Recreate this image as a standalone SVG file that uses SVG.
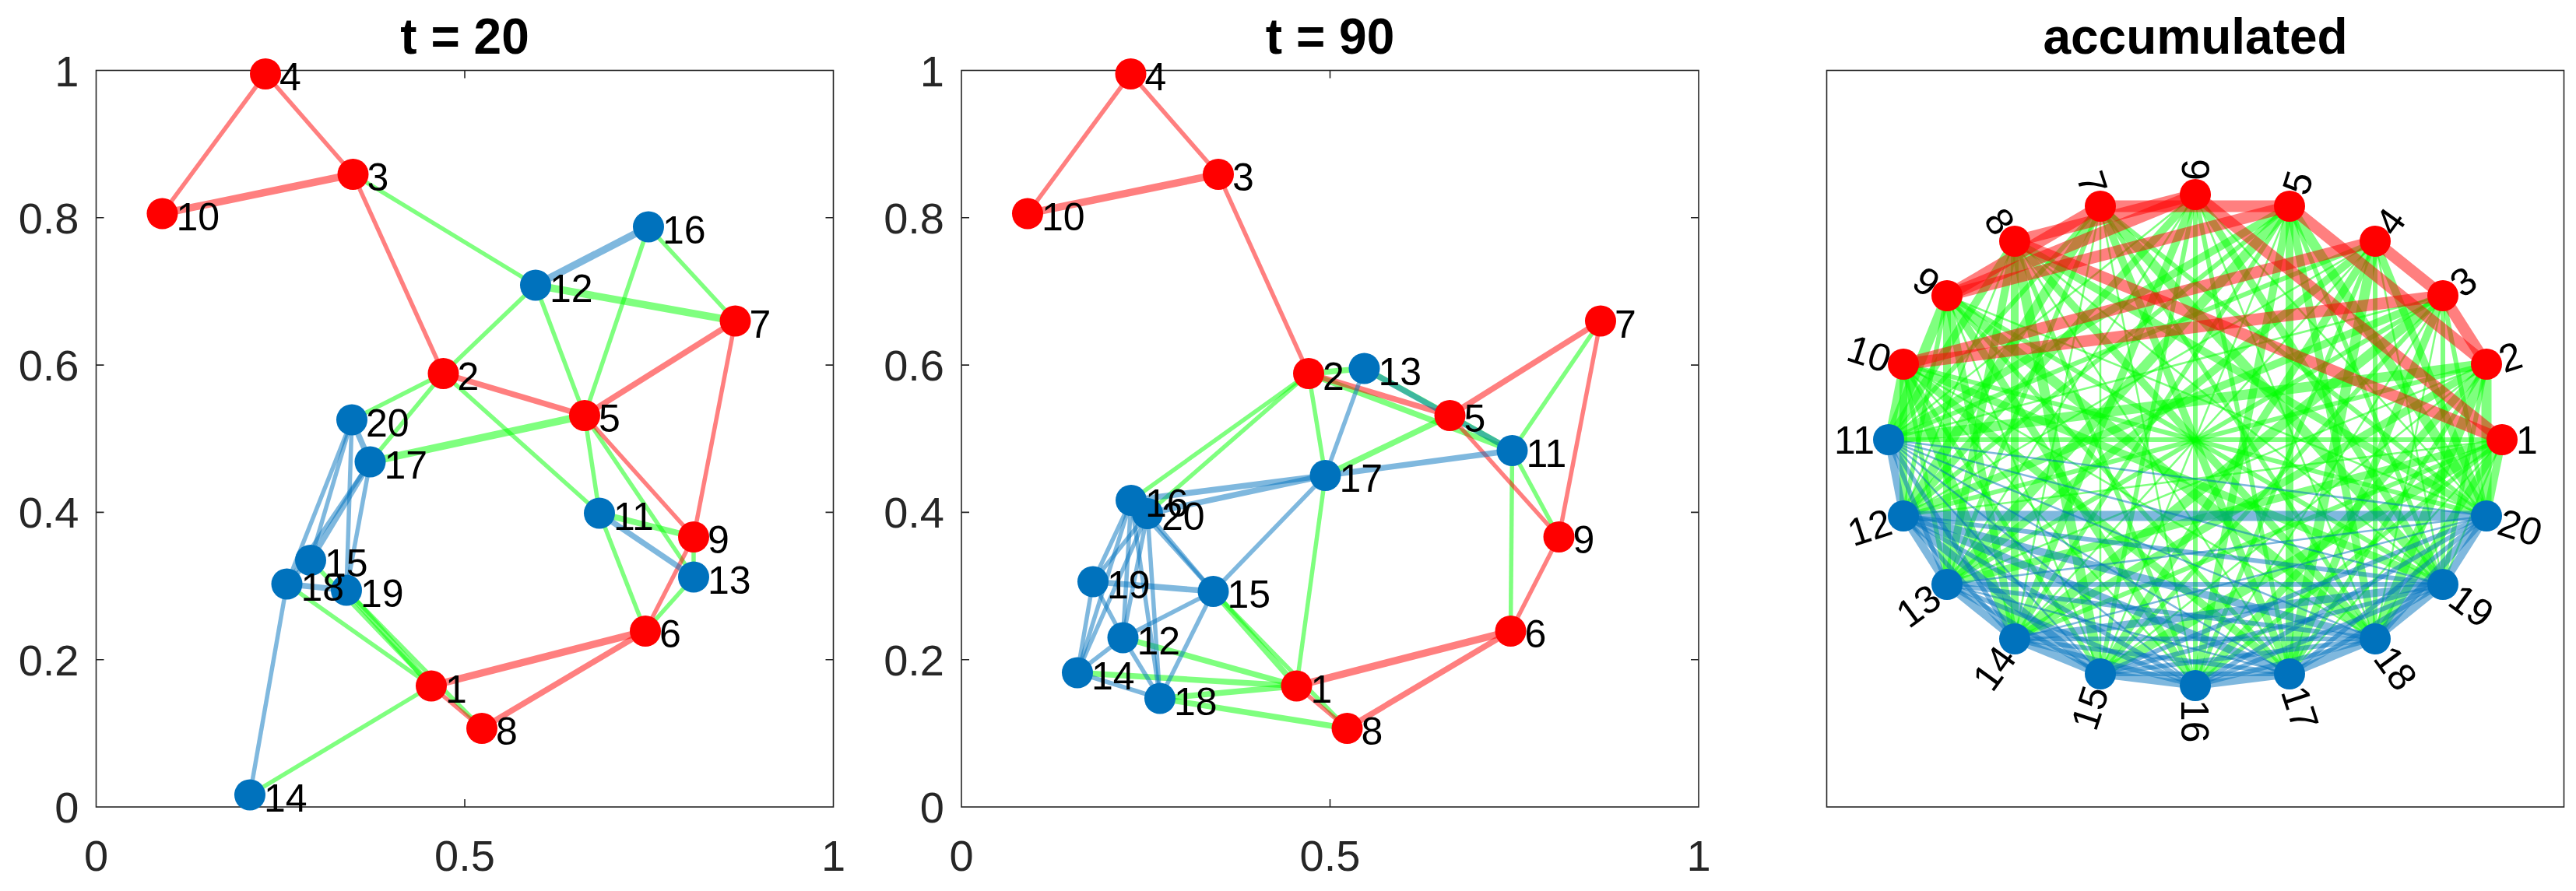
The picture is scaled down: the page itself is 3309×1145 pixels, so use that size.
<svg xmlns="http://www.w3.org/2000/svg" width="3309" height="1145" viewBox="0 0 3309 1145">
<style>
text{font-family:"Liberation Sans",Arial,Helvetica,sans-serif}
.ax{fill:none;stroke:#262626;stroke-width:1.6}
.tk{fill:none;stroke:#262626;stroke-width:1.6}
.tl{font-size:56px;fill:#262626}
.tly{text-anchor:end}
.tlx{text-anchor:middle}
.tt{font-size:64px;font-weight:bold;fill:#000;text-anchor:middle}
.lb{font-size:50px;fill:#000}
.le{text-anchor:end}
.g{stroke:#00FF00;stroke-opacity:.5}
.r{stroke:#FF0000;stroke-opacity:.5}
.b{stroke:#0072BD;stroke-opacity:.5}
.t{stroke-width:5.5}.m{stroke-width:7.5}.k{stroke-width:9.5}
.A{stroke-width:2.5}.B{stroke-width:6}.C{stroke-width:10}.D{stroke-width:13}.E{stroke-width:15}
.nr{fill:#FF0000}.nb{fill:#0072BD}
</style>
<rect width="3309" height="1145" fill="#fff"/>

<!-- titles -->
<text class="tt" x="597" y="68.5">t = 20</text>
<text class="tt" x="1708.5" y="68.5">t = 90</text>
<text class="tt" x="2820" y="68.5">accumulated</text>

<!-- axes -->
<g id="axes">
<rect class="ax" x="123.5" y="90.5" width="947" height="946.5"/>
<rect class="ax" x="1235" y="90.5" width="947" height="946.5"/>
<rect class="ax" x="2346.5" y="90.5" width="947" height="946.5"/>
<path class="tk" d="M597,1037V1027M597,90.5V100.5M123.5,847.7H133.5M123.5,658.4H133.5M123.5,469.1H133.5M123.5,279.8H133.5M1070.5,847.7H1060.5M1070.5,658.4H1060.5M1070.5,469.1H1060.5M1070.5,279.8H1060.5"/>
<path class="tk" d="M1708.5,1037V1027M1708.5,90.5V100.5M1235,847.7H1245M1235,658.4H1245M1235,469.1H1245M1235,279.8H1245M2182,847.7H2172M2182,658.4H2172M2182,469.1H2172M2182,279.8H2172"/>
<g class="tl tly">
<text x="101.5" y="1057">0</text><text x="101.5" y="867.7">0.2</text><text x="101.5" y="678.4">0.4</text><text x="101.5" y="489.1">0.6</text><text x="101.5" y="299.8">0.8</text><text x="101.5" y="110.5">1</text>
<text x="1213" y="1057">0</text><text x="1213" y="867.7">0.2</text><text x="1213" y="678.4">0.4</text><text x="1213" y="489.1">0.6</text><text x="1213" y="299.8">0.8</text><text x="1213" y="110.5">1</text>
</g>
<g class="tl tlx">
<text x="123.5" y="1119">0</text><text x="597" y="1119">0.5</text><text x="1070.5" y="1119">1</text>
<text x="1235" y="1119">0</text><text x="1708.5" y="1119">0.5</text><text x="2182" y="1119">1</text>
</g>
</g>

<!-- connectors panel 1 -->
<g id="p1-edges">
<line class="g t" x1="453.5" y1="224" x2="688" y2="366.5"/>
<line class="g k" x1="688" y1="366.5" x2="944.5" y2="412.5"/>
<line class="g t" x1="833" y1="291.5" x2="944.5" y2="412.5"/>
<line class="g t" x1="833" y1="291.5" x2="751" y2="534"/>
<line class="g t" x1="688" y1="366.5" x2="751" y2="534"/>
<line class="g t" x1="688" y1="366.5" x2="569.5" y2="480"/>
<line class="g t" x1="569.5" y1="480" x2="452" y2="539.5"/>
<line class="g t" x1="569.5" y1="480" x2="475.5" y2="593.5"/>
<line class="g t" x1="569.5" y1="480" x2="770" y2="659.5"/>
<line class="g k" x1="751" y1="534" x2="475.5" y2="593.5"/>
<line class="g t" x1="751" y1="534" x2="770" y2="659.5"/>
<line class="g t" x1="751" y1="534" x2="891" y2="741.5"/>
<line class="g m" x1="770" y1="659.5" x2="891" y2="690"/>
<line class="g t" x1="891" y1="690" x2="891" y2="741.5"/>
<line class="g t" x1="770" y1="659.5" x2="829" y2="811"/>
<line class="g t" x1="891" y1="741.5" x2="829" y2="811"/>
<line class="g t" x1="368.5" y1="750.5" x2="554" y2="881.5"/>
<line class="g m" x1="445" y1="758.5" x2="554" y2="881.5"/>
<line class="g t" x1="399" y1="720" x2="554" y2="881.5"/>
<line class="g t" x1="445" y1="758.5" x2="619" y2="936"/>
<line class="g t" x1="321" y1="1021.5" x2="554" y2="881.5"/>
<line class="r t" x1="341" y1="95" x2="208.5" y2="274.5"/>
<line class="r t" x1="341" y1="95" x2="453.5" y2="224"/>
<line class="r k" x1="453.5" y1="224" x2="208.5" y2="274.5"/>
<line class="r t" x1="453.5" y1="224" x2="569.5" y2="480"/>
<line class="r m" x1="569.5" y1="480" x2="751" y2="534"/>
<line class="r m" x1="751" y1="534" x2="944.5" y2="412.5"/>
<line class="r t" x1="944.5" y1="412.5" x2="891" y2="690"/>
<line class="r t" x1="751" y1="534" x2="891" y2="690"/>
<line class="r t" x1="891" y1="690" x2="829" y2="811"/>
<line class="r k" x1="829" y1="811" x2="554" y2="881.5"/>
<line class="r m" x1="829" y1="811" x2="619" y2="936"/>
<line class="r t" x1="554" y1="881.5" x2="619" y2="936"/>
<line class="b k" x1="688" y1="366.5" x2="833" y2="291.5"/>
<line class="b m" x1="770" y1="659.5" x2="891" y2="741.5"/>
<line class="b m" x1="452" y1="539.5" x2="475.5" y2="593.5"/>
<line class="b t" x1="452" y1="539.5" x2="399" y2="720"/>
<line class="b t" x1="452" y1="539.5" x2="368.5" y2="750.5"/>
<line class="b t" x1="452" y1="539.5" x2="445" y2="758.5"/>
<line class="b m" x1="475.5" y1="593.5" x2="399" y2="720"/>
<line class="b t" x1="475.5" y1="593.5" x2="368.5" y2="750.5"/>
<line class="b t" x1="475.5" y1="593.5" x2="445" y2="758.5"/>
<line class="b m" x1="368.5" y1="750.5" x2="445" y2="758.5"/>
<line class="b t" x1="368.5" y1="750.5" x2="321" y2="1021.5"/>
<line class="b t" x1="399" y1="720" x2="368.5" y2="750.5"/>
</g>

<!-- nodes panel 1 -->
<g id="p1-n1"><circle class="nr" cx="554" cy="881.5" r="20"/><text class="lb" x="572" y="902.5">1</text></g>
<g id="p1-n2"><circle class="nr" cx="569.5" cy="480" r="20"/><text class="lb" x="587.5" y="501">2</text></g>
<g id="p1-n3"><circle class="nr" cx="453.5" cy="224" r="20"/><text class="lb" x="471.5" y="245">3</text></g>
<g id="p1-n4"><circle class="nr" cx="341" cy="95" r="20"/><text class="lb" x="359" y="116">4</text></g>
<g id="p1-n5"><circle class="nr" cx="751" cy="534" r="20"/><text class="lb" x="769" y="555">5</text></g>
<g id="p1-n6"><circle class="nr" cx="829" cy="811" r="20"/><text class="lb" x="847" y="832">6</text></g>
<g id="p1-n7"><circle class="nr" cx="944.5" cy="412.5" r="20"/><text class="lb" x="962.5" y="433.5">7</text></g>
<g id="p1-n8"><circle class="nr" cx="619" cy="936" r="20"/><text class="lb" x="637" y="957">8</text></g>
<g id="p1-n9"><circle class="nr" cx="891" cy="690" r="20"/><text class="lb" x="909" y="711">9</text></g>
<g id="p1-n10"><circle class="nr" cx="208.5" cy="274.5" r="20"/><text class="lb" x="226.5" y="295.5">10</text></g>
<g id="p1-n11"><circle class="nb" cx="770" cy="659.5" r="20"/><text class="lb" x="788" y="680.5">11</text></g>
<g id="p1-n12"><circle class="nb" cx="688" cy="366.5" r="20"/><text class="lb" x="706" y="387.5">12</text></g>
<g id="p1-n13"><circle class="nb" cx="891" cy="741.5" r="20"/><text class="lb" x="909" y="762.5">13</text></g>
<g id="p1-n14"><circle class="nb" cx="321" cy="1021.5" r="20"/><text class="lb" x="339" y="1042.5">14</text></g>
<g id="p1-n19"><circle class="nb" cx="445" cy="758.5" r="20"/><text class="lb" x="463" y="779.5">19</text></g>
<g id="p1-n15"><circle class="nb" cx="399" cy="720" r="20"/><text class="lb" x="417" y="741">15</text></g>
<g id="p1-n16"><circle class="nb" cx="833" cy="291.5" r="20"/><text class="lb" x="851" y="312.5">16</text></g>
<g id="p1-n17"><circle class="nb" cx="475.5" cy="593.5" r="20"/><text class="lb" x="493.5" y="614.5">17</text></g>
<g id="p1-n18"><circle class="nb" cx="368.5" cy="750.5" r="20"/><text class="lb" x="386.5" y="771.5">18</text></g>
<g id="p1-n20"><circle class="nb" cx="452" cy="539.5" r="20"/><text class="lb" x="470" y="560.5">20</text></g>

<!-- connectors panel 2 -->
<g id="p2-edges">
<line class="g m" x1="1681" y1="480" x2="1752.5" y2="473.5"/>
<line class="g m" x1="1681" y1="480" x2="1942.5" y2="579"/>
<line class="g t" x1="1681" y1="480" x2="1702.5" y2="611"/>
<line class="g t" x1="1681" y1="480" x2="1453" y2="643"/>
<line class="g t" x1="1681" y1="480" x2="1474" y2="660"/>
<line class="g m" x1="1752.5" y1="473.5" x2="1862.5" y2="534"/>
<line class="g m" x1="1862.5" y1="534" x2="1942.5" y2="579"/>
<line class="g m" x1="1862.5" y1="534" x2="1702.5" y2="611"/>
<line class="g t" x1="2056" y1="412.5" x2="1942.5" y2="579"/>
<line class="g t" x1="1942.5" y1="579" x2="2002.5" y2="690"/>
<line class="g t" x1="1942.5" y1="579" x2="1940.5" y2="811"/>
<line class="g t" x1="1702.5" y1="611" x2="1665.5" y2="881.5"/>
<line class="g m" x1="1558.5" y1="760" x2="1665.5" y2="881.5"/>
<line class="g t" x1="1558.5" y1="760" x2="1730.5" y2="936"/>
<line class="g m" x1="1442.5" y1="819.5" x2="1665.5" y2="881.5"/>
<line class="g m" x1="1384" y1="864.5" x2="1665.5" y2="881.5"/>
<line class="g m" x1="1490" y1="897.5" x2="1665.5" y2="881.5"/>
<line class="g m" x1="1490" y1="897.5" x2="1730.5" y2="936"/>
<line class="r t" x1="1452.5" y1="95" x2="1320" y2="274.5"/>
<line class="r t" x1="1452.5" y1="95" x2="1565" y2="224"/>
<line class="r k" x1="1565" y1="224" x2="1320" y2="274.5"/>
<line class="r t" x1="1565" y1="224" x2="1681" y2="480"/>
<line class="r m" x1="1681" y1="480" x2="1862.5" y2="534"/>
<line class="r m" x1="1862.5" y1="534" x2="2056" y2="412.5"/>
<line class="r t" x1="2056" y1="412.5" x2="2002.5" y2="690"/>
<line class="r t" x1="1862.5" y1="534" x2="2002.5" y2="690"/>
<line class="r t" x1="2002.5" y1="690" x2="1940.5" y2="811"/>
<line class="r k" x1="1940.5" y1="811" x2="1665.5" y2="881.5"/>
<line class="r m" x1="1940.5" y1="811" x2="1730.5" y2="936"/>
<line class="r t" x1="1665.5" y1="881.5" x2="1730.5" y2="936"/>
<line class="b m" x1="1752.5" y1="473.5" x2="1942.5" y2="579"/>
<line class="b t" x1="1752.5" y1="473.5" x2="1702.5" y2="611"/>
<line class="b m" x1="1702.5" y1="611" x2="1942.5" y2="579"/>
<line class="b m" x1="1702.5" y1="611" x2="1453" y2="643"/>
<line class="b m" x1="1702.5" y1="611" x2="1474" y2="660"/>
<line class="b t" x1="1702.5" y1="611" x2="1558.5" y2="760"/>
<line class="b t" x1="1453" y1="643" x2="1474" y2="660"/>
<line class="b t" x1="1453" y1="643" x2="1404" y2="747.5"/>
<line class="b t" x1="1453" y1="643" x2="1384" y2="864.5"/>
<line class="b t" x1="1453" y1="643" x2="1442.5" y2="819.5"/>
<line class="b t" x1="1453" y1="643" x2="1490" y2="897.5"/>
<line class="b t" x1="1453" y1="643" x2="1558.5" y2="760"/>
<line class="b t" x1="1474" y1="660" x2="1404" y2="747.5"/>
<line class="b t" x1="1474" y1="660" x2="1384" y2="864.5"/>
<line class="b t" x1="1474" y1="660" x2="1442.5" y2="819.5"/>
<line class="b t" x1="1474" y1="660" x2="1490" y2="897.5"/>
<line class="b t" x1="1474" y1="660" x2="1558.5" y2="760"/>
<line class="b m" x1="1404" y1="747.5" x2="1558.5" y2="760"/>
<line class="b t" x1="1404" y1="747.5" x2="1442.5" y2="819.5"/>
<line class="b t" x1="1404" y1="747.5" x2="1384" y2="864.5"/>
<line class="b t" x1="1442.5" y1="819.5" x2="1558.5" y2="760"/>
<line class="b t" x1="1442.5" y1="819.5" x2="1384" y2="864.5"/>
<line class="b t" x1="1442.5" y1="819.5" x2="1490" y2="897.5"/>
<line class="b t" x1="1384" y1="864.5" x2="1490" y2="897.5"/>
<line class="b t" x1="1558.5" y1="760" x2="1490" y2="897.5"/>
</g>

<!-- nodes panel 2 -->
<g id="p2-n1"><circle class="nr" cx="1665.5" cy="881.5" r="20"/><text class="lb" x="1683.5" y="902.5">1</text></g>
<g id="p2-n2"><circle class="nr" cx="1681" cy="480" r="20"/><text class="lb" x="1699" y="501">2</text></g>
<g id="p2-n3"><circle class="nr" cx="1565" cy="224" r="20"/><text class="lb" x="1583" y="245">3</text></g>
<g id="p2-n4"><circle class="nr" cx="1452.5" cy="95" r="20"/><text class="lb" x="1470.5" y="116">4</text></g>
<g id="p2-n5"><circle class="nr" cx="1862.5" cy="534" r="20"/><text class="lb" x="1880.5" y="555">5</text></g>
<g id="p2-n6"><circle class="nr" cx="1940.5" cy="811" r="20"/><text class="lb" x="1958.5" y="832">6</text></g>
<g id="p2-n7"><circle class="nr" cx="2056" cy="412.5" r="20"/><text class="lb" x="2074" y="433.5">7</text></g>
<g id="p2-n8"><circle class="nr" cx="1730.5" cy="936" r="20"/><text class="lb" x="1748.5" y="957">8</text></g>
<g id="p2-n9"><circle class="nr" cx="2002.5" cy="690" r="20"/><text class="lb" x="2020.5" y="711">9</text></g>
<g id="p2-n10"><circle class="nr" cx="1320" cy="274.5" r="20"/><text class="lb" x="1338" y="295.5">10</text></g>
<g id="p2-n11"><circle class="nb" cx="1942.5" cy="579" r="20"/><text class="lb" x="1960.5" y="600">11</text></g>
<g id="p2-n12"><circle class="nb" cx="1442.5" cy="819.5" r="20"/><text class="lb" x="1460.5" y="840.5">12</text></g>
<g id="p2-n13"><circle class="nb" cx="1752.5" cy="473.5" r="20"/><text class="lb" x="1770.5" y="494.5">13</text></g>
<g id="p2-n14"><circle class="nb" cx="1384" cy="864.5" r="20"/><text class="lb" x="1402" y="885.5">14</text></g>
<g id="p2-n15"><circle class="nb" cx="1558.5" cy="760" r="20"/><text class="lb" x="1576.5" y="781">15</text></g>
<g id="p2-n20"><circle class="nb" cx="1474" cy="660" r="20"/><text class="lb" x="1492" y="681">20</text></g>
<g id="p2-n16"><circle class="nb" cx="1453" cy="643" r="20"/><text class="lb" x="1471" y="664">16</text></g>
<g id="p2-n17"><circle class="nb" cx="1702.5" cy="611" r="20"/><text class="lb" x="1720.5" y="632">17</text></g>
<g id="p2-n18"><circle class="nb" cx="1490" cy="897.5" r="20"/><text class="lb" x="1508" y="918.5">18</text></g>
<g id="p2-n19"><circle class="nb" cx="1404" cy="747.5" r="20"/><text class="lb" x="1422" y="768.5">19</text></g>

<!-- connectors panel 3 -->
<g id="p3-edges">
<line class="g B" x1="3214" y1="565" x2="2426" y2="565"/>
<line class="g A" x1="3214" y1="565" x2="2445" y2="663"/>
<line class="g C" x1="3214" y1="565" x2="2501" y2="751"/>
<line class="g B" x1="3214" y1="565" x2="2588" y2="821"/>
<line class="g D" x1="3214" y1="565" x2="2698" y2="866"/>
<line class="g B" x1="3214" y1="565" x2="2820" y2="881"/>
<line class="g A" x1="3214" y1="565" x2="2941" y2="866"/>
<line class="g C" x1="3214" y1="565" x2="3051" y2="821"/>
<line class="g A" x1="3214" y1="565" x2="3138" y2="751"/>
<line class="g C" x1="3214" y1="565" x2="3194" y2="663"/>
<line class="g D" x1="3194" y1="468" x2="2426" y2="565"/>
<line class="g B" x1="3194" y1="468" x2="2445" y2="663"/>
<line class="g A" x1="3194" y1="468" x2="2501" y2="751"/>
<line class="g C" x1="3194" y1="468" x2="2588" y2="821"/>
<line class="g A" x1="3194" y1="468" x2="2698" y2="866"/>
<line class="g C" x1="3194" y1="468" x2="2820" y2="881"/>
<line class="g B" x1="3194" y1="468" x2="2941" y2="866"/>
<line class="g D" x1="3194" y1="468" x2="3051" y2="821"/>
<line class="g B" x1="3194" y1="468" x2="3138" y2="751"/>
<line class="g D" x1="3194" y1="468" x2="3194" y2="663"/>
<line class="g A" x1="3138" y1="380" x2="2426" y2="565"/>
<line class="g C" x1="3138" y1="380" x2="2445" y2="663"/>
<line class="g B" x1="3138" y1="380" x2="2501" y2="751"/>
<line class="g D" x1="3138" y1="380" x2="2588" y2="821"/>
<line class="g B" x1="3138" y1="380" x2="2698" y2="866"/>
<line class="g A" x1="3138" y1="380" x2="2820" y2="881"/>
<line class="g C" x1="3138" y1="380" x2="2941" y2="866"/>
<line class="g A" x1="3138" y1="380" x2="3051" y2="821"/>
<line class="g B" x1="3138" y1="380" x2="3138" y2="751"/>
<line class="g B" x1="3138" y1="380" x2="3194" y2="663"/>
<line class="g B" x1="3051" y1="310" x2="2426" y2="565"/>
<line class="g A" x1="3051" y1="310" x2="2445" y2="663"/>
<line class="g C" x1="3051" y1="310" x2="2501" y2="751"/>
<line class="g A" x1="3051" y1="310" x2="2588" y2="821"/>
<line class="g C" x1="3051" y1="310" x2="2698" y2="866"/>
<line class="g B" x1="3051" y1="310" x2="2820" y2="881"/>
<line class="g D" x1="3051" y1="310" x2="2941" y2="866"/>
<line class="g B" x1="3051" y1="310" x2="3051" y2="821"/>
<line class="g A" x1="3051" y1="310" x2="3138" y2="751"/>
<line class="g C" x1="3051" y1="310" x2="3194" y2="663"/>
<line class="g C" x1="2941" y1="265" x2="2426" y2="565"/>
<line class="g B" x1="2941" y1="265" x2="2445" y2="663"/>
<line class="g D" x1="2941" y1="265" x2="2501" y2="751"/>
<line class="g B" x1="2941" y1="265" x2="2588" y2="821"/>
<line class="g A" x1="2941" y1="265" x2="2698" y2="866"/>
<line class="g C" x1="2941" y1="265" x2="2820" y2="881"/>
<line class="g C" x1="2941" y1="265" x2="2941" y2="866"/>
<line class="g C" x1="2941" y1="265" x2="3051" y2="821"/>
<line class="g B" x1="2941" y1="265" x2="3138" y2="751"/>
<line class="g D" x1="2941" y1="265" x2="3194" y2="663"/>
<line class="g A" x1="2820" y1="250" x2="2426" y2="565"/>
<line class="g C" x1="2820" y1="250" x2="2445" y2="663"/>
<line class="g A" x1="2820" y1="250" x2="2501" y2="751"/>
<line class="g C" x1="2820" y1="250" x2="2588" y2="821"/>
<line class="g B" x1="2820" y1="250" x2="2698" y2="866"/>
<line class="g B" x1="2820" y1="250" x2="2820" y2="881"/>
<line class="g B" x1="2820" y1="250" x2="2941" y2="866"/>
<line class="g A" x1="2820" y1="250" x2="3051" y2="821"/>
<line class="g C" x1="2820" y1="250" x2="3138" y2="751"/>
<line class="g A" x1="2820" y1="250" x2="3194" y2="663"/>
<line class="g B" x1="2698" y1="265" x2="2426" y2="565"/>
<line class="g D" x1="2698" y1="265" x2="2445" y2="663"/>
<line class="g B" x1="2698" y1="265" x2="2501" y2="751"/>
<line class="g A" x1="2698" y1="265" x2="2588" y2="821"/>
<line class="g A" x1="2698" y1="265" x2="2698" y2="866"/>
<line class="g A" x1="2698" y1="265" x2="2820" y2="881"/>
<line class="g C" x1="2698" y1="265" x2="2941" y2="866"/>
<line class="g B" x1="2698" y1="265" x2="3051" y2="821"/>
<line class="g D" x1="2698" y1="265" x2="3138" y2="751"/>
<line class="g B" x1="2698" y1="265" x2="3194" y2="663"/>
<line class="g C" x1="2588" y1="310" x2="2426" y2="565"/>
<line class="g A" x1="2588" y1="310" x2="2445" y2="663"/>
<line class="g C" x1="2588" y1="310" x2="2501" y2="751"/>
<line class="g C" x1="2588" y1="310" x2="2588" y2="821"/>
<line class="g D" x1="2588" y1="310" x2="2698" y2="866"/>
<line class="g B" x1="2588" y1="310" x2="2820" y2="881"/>
<line class="g A" x1="2588" y1="310" x2="2941" y2="866"/>
<line class="g C" x1="2588" y1="310" x2="3051" y2="821"/>
<line class="g A" x1="2588" y1="310" x2="3138" y2="751"/>
<line class="g C" x1="2588" y1="310" x2="3194" y2="663"/>
<line class="g D" x1="2501" y1="380" x2="2426" y2="565"/>
<line class="g B" x1="2501" y1="380" x2="2445" y2="663"/>
<line class="g C" x1="2501" y1="380" x2="2501" y2="751"/>
<line class="g C" x1="2501" y1="380" x2="2588" y2="821"/>
<line class="g A" x1="2501" y1="380" x2="2698" y2="866"/>
<line class="g C" x1="2501" y1="380" x2="2820" y2="881"/>
<line class="g B" x1="2501" y1="380" x2="2941" y2="866"/>
<line class="g D" x1="2501" y1="380" x2="3051" y2="821"/>
<line class="g B" x1="2501" y1="380" x2="3138" y2="751"/>
<line class="g A" x1="2501" y1="380" x2="3194" y2="663"/>
<line class="g C" x1="2445" y1="468" x2="2426" y2="565"/>
<line class="g C" x1="2445" y1="468" x2="2445" y2="663"/>
<line class="g B" x1="2445" y1="468" x2="2501" y2="751"/>
<line class="g D" x1="2445" y1="468" x2="2588" y2="821"/>
<line class="g B" x1="2445" y1="468" x2="2698" y2="866"/>
<line class="g A" x1="2445" y1="468" x2="2820" y2="881"/>
<line class="g C" x1="2445" y1="468" x2="2941" y2="866"/>
<line class="g A" x1="2445" y1="468" x2="3051" y2="821"/>
<line class="g C" x1="2445" y1="468" x2="3138" y2="751"/>
<line class="g B" x1="2445" y1="468" x2="3194" y2="663"/>
<line class="r E" x1="3051" y1="310" x2="2445" y2="468"/>
<line class="r E" x1="3051" y1="310" x2="3138" y2="380"/>
<line class="r E" x1="3138" y1="380" x2="2445" y2="468"/>
<line class="r E" x1="3138" y1="380" x2="3194" y2="468"/>
<line class="r E" x1="3194" y1="468" x2="2941" y2="265"/>
<line class="r E" x1="2941" y1="265" x2="2698" y2="265"/>
<line class="r E" x1="2698" y1="265" x2="2501" y2="380"/>
<line class="r E" x1="2941" y1="265" x2="2501" y2="380"/>
<line class="r E" x1="2501" y1="380" x2="2820" y2="250"/>
<line class="r E" x1="2820" y1="250" x2="3214" y2="565"/>
<line class="r E" x1="2820" y1="250" x2="2588" y2="310"/>
<line class="r E" x1="3214" y1="565" x2="2588" y2="310"/>
<line class="b C" x1="2426" y1="565" x2="2445" y2="663"/>
<line class="b B" x1="2426" y1="565" x2="2501" y2="751"/>
<line class="b B" x1="2426" y1="565" x2="2588" y2="821"/>
<line class="b A" x1="2426" y1="565" x2="2698" y2="866"/>
<line class="b A" x1="2426" y1="565" x2="2820" y2="881"/>
<line class="b A" x1="2426" y1="565" x2="2941" y2="866"/>
<line class="b A" x1="2426" y1="565" x2="3051" y2="821"/>
<line class="b A" x1="2426" y1="565" x2="3138" y2="751"/>
<line class="b A" x1="2426" y1="565" x2="3194" y2="663"/>
<line class="b C" x1="2445" y1="663" x2="2501" y2="751"/>
<line class="b B" x1="2445" y1="663" x2="2588" y2="821"/>
<line class="b C" x1="2445" y1="663" x2="2698" y2="866"/>
<line class="b B" x1="2445" y1="663" x2="2820" y2="881"/>
<line class="b C" x1="2445" y1="663" x2="2941" y2="866"/>
<line class="b C" x1="2445" y1="663" x2="3051" y2="821"/>
<line class="b B" x1="2445" y1="663" x2="3138" y2="751"/>
<line class="b D" x1="2445" y1="663" x2="3194" y2="663"/>
<line class="b C" x1="2501" y1="751" x2="2588" y2="821"/>
<line class="b B" x1="2501" y1="751" x2="2698" y2="866"/>
<line class="b B" x1="2501" y1="751" x2="2820" y2="881"/>
<line class="b A" x1="2501" y1="751" x2="2941" y2="866"/>
<line class="b B" x1="2501" y1="751" x2="3051" y2="821"/>
<line class="b B" x1="2501" y1="751" x2="3138" y2="751"/>
<line class="b A" x1="2501" y1="751" x2="3194" y2="663"/>
<line class="b C" x1="2588" y1="821" x2="2698" y2="866"/>
<line class="b B" x1="2588" y1="821" x2="2820" y2="881"/>
<line class="b B" x1="2588" y1="821" x2="2941" y2="866"/>
<line class="b B" x1="2588" y1="821" x2="3051" y2="821"/>
<line class="b C" x1="2588" y1="821" x2="3138" y2="751"/>
<line class="b A" x1="2588" y1="821" x2="3194" y2="663"/>
<line class="b C" x1="2698" y1="866" x2="2820" y2="881"/>
<line class="b B" x1="2698" y1="866" x2="2941" y2="866"/>
<line class="b B" x1="2698" y1="866" x2="3051" y2="821"/>
<line class="b B" x1="2698" y1="866" x2="3138" y2="751"/>
<line class="b B" x1="2698" y1="866" x2="3194" y2="663"/>
<line class="b C" x1="2820" y1="881" x2="2941" y2="866"/>
<line class="b B" x1="2820" y1="881" x2="3051" y2="821"/>
<line class="b B" x1="2820" y1="881" x2="3138" y2="751"/>
<line class="b B" x1="2820" y1="881" x2="3194" y2="663"/>
<line class="b C" x1="2941" y1="866" x2="3051" y2="821"/>
<line class="b B" x1="2941" y1="866" x2="3138" y2="751"/>
<line class="b B" x1="2941" y1="866" x2="3194" y2="663"/>
<line class="b C" x1="3051" y1="821" x2="3138" y2="751"/>
<line class="b C" x1="3051" y1="821" x2="3194" y2="663"/>
<line class="b C" x1="3138" y1="751" x2="3194" y2="663"/>
</g>

<!-- nodes panel 3 -->
<g id="p3-n1"><circle class="nr" cx="3214" cy="565" r="20"/><text class="lb" transform="translate(3214,565)" x="18" y="18">1</text></g>
<g id="p3-n2"><circle class="nr" cx="3194" cy="468" r="20"/><text class="lb" transform="translate(3194,468) rotate(-18)" x="18" y="18">2</text></g>
<g id="p3-n3"><circle class="nr" cx="3138" cy="380" r="20"/><text class="lb" transform="translate(3138,380) rotate(-36)" x="18" y="18">3</text></g>
<g id="p3-n4"><circle class="nr" cx="3051" cy="310" r="20"/><text class="lb" transform="translate(3051,310) rotate(-54)" x="18" y="18">4</text></g>
<g id="p3-n5"><circle class="nr" cx="2941" cy="265" r="20"/><text class="lb" transform="translate(2941,265) rotate(-72)" x="18" y="18">5</text></g>
<g id="p3-n6"><circle class="nr" cx="2820" cy="250" r="20"/><text class="lb" transform="translate(2820,250) rotate(-90)" x="18" y="18">6</text></g>
<g id="p3-n7"><circle class="nr" cx="2698" cy="265" r="20"/><text class="lb le" transform="translate(2698,265) rotate(72)" x="-18" y="18">7</text></g>
<g id="p3-n8"><circle class="nr" cx="2588" cy="310" r="20"/><text class="lb le" transform="translate(2588,310) rotate(54)" x="-18" y="18">8</text></g>
<g id="p3-n9"><circle class="nr" cx="2501" cy="380" r="20"/><text class="lb le" transform="translate(2501,380) rotate(36)" x="-18" y="18">9</text></g>
<g id="p3-n10"><circle class="nr" cx="2445" cy="468" r="20"/><text class="lb le" transform="translate(2445,468) rotate(18)" x="-18" y="18">10</text></g>
<g id="p3-n11"><circle class="nb" cx="2426" cy="565" r="20"/><text class="lb le" transform="translate(2426,565)" x="-18" y="18">11</text></g>
<g id="p3-n12"><circle class="nb" cx="2445" cy="663" r="20"/><text class="lb le" transform="translate(2445,663) rotate(-18)" x="-18" y="18">12</text></g>
<g id="p3-n13"><circle class="nb" cx="2501" cy="751" r="20"/><text class="lb le" transform="translate(2501,751) rotate(-36)" x="-18" y="18">13</text></g>
<g id="p3-n14"><circle class="nb" cx="2588" cy="821" r="20"/><text class="lb le" transform="translate(2588,821) rotate(-54)" x="-18" y="18">14</text></g>
<g id="p3-n15"><circle class="nb" cx="2698" cy="866" r="20"/><text class="lb le" transform="translate(2698,866) rotate(-72)" x="-18" y="18">15</text></g>
<g id="p3-n16"><circle class="nb" cx="2820" cy="881" r="20"/><text class="lb" transform="translate(2820,881) rotate(90)" x="18" y="18">16</text></g>
<g id="p3-n17"><circle class="nb" cx="2941" cy="866" r="20"/><text class="lb" transform="translate(2941,866) rotate(72)" x="18" y="18">17</text></g>
<g id="p3-n18"><circle class="nb" cx="3051" cy="821" r="20"/><text class="lb" transform="translate(3051,821) rotate(54)" x="18" y="18">18</text></g>
<g id="p3-n19"><circle class="nb" cx="3138" cy="751" r="20"/><text class="lb" transform="translate(3138,751) rotate(36)" x="18" y="18">19</text></g>
<g id="p3-n20"><circle class="nb" cx="3194" cy="663" r="20"/><text class="lb" transform="translate(3194,663) rotate(18)" x="18" y="18">20</text></g>
</svg>
